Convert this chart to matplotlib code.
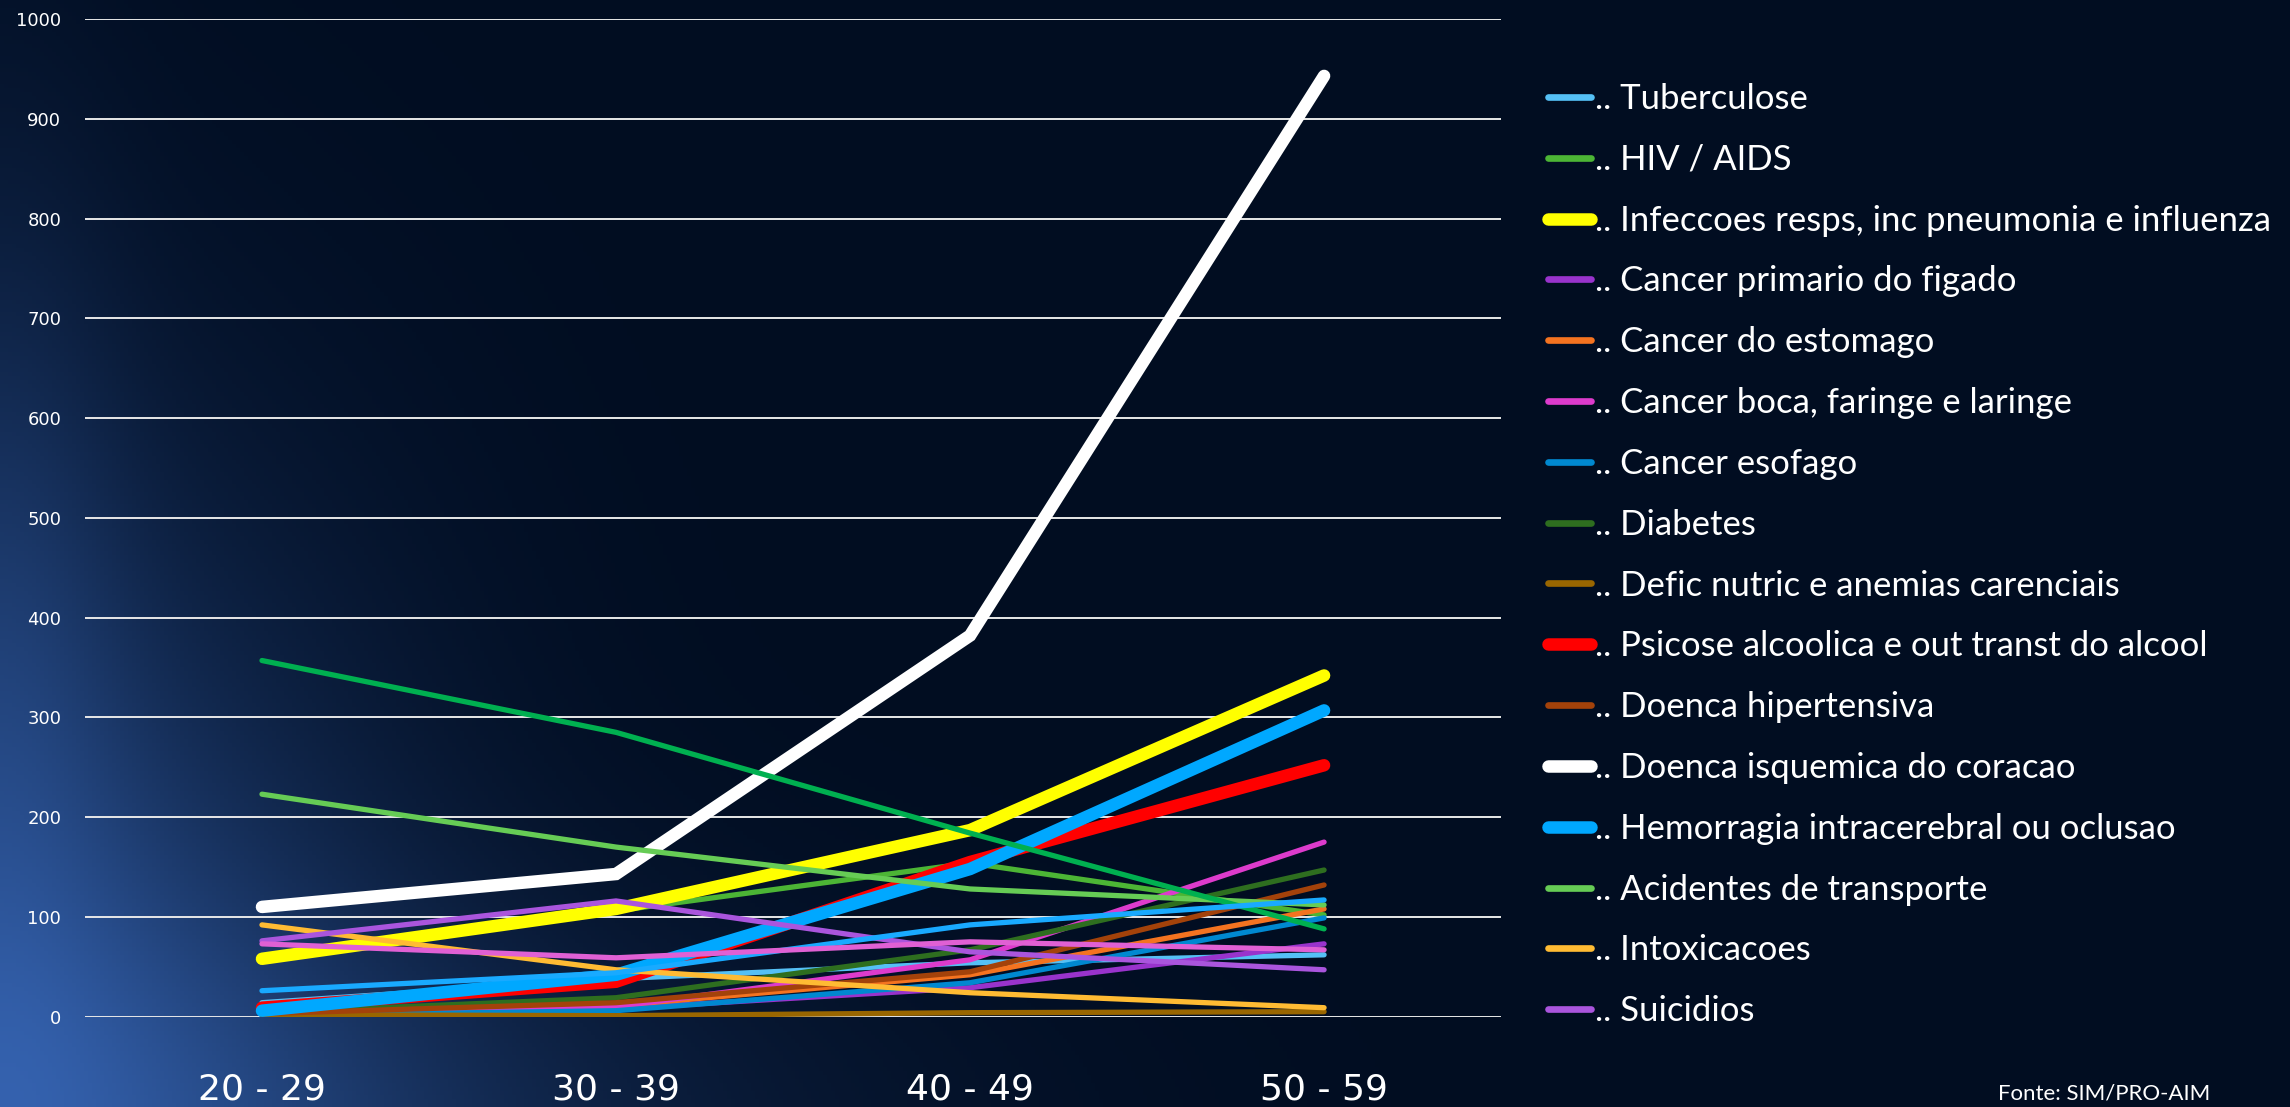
import numpy as np
import matplotlib
matplotlib.use('Agg')
import matplotlib.pyplot as plt

# faixas etarias (eixo x)
faixas = ['20 - 29', '30 - 39', '40 - 49', '50 - 59']

# valores, por causa
tuberculose = [14, 38, 54, 62]
hiv_aids = [57, 106, 154, 102]
infeccoes_resp = [58, 108, 187, 342]
cancer_figado = [3, 8, 29, 73]
cancer_estomago = [3, 11, 42, 108]
cancer_boca = [2, 10, 57, 175]
cancer_esofago = [1, 6, 34, 99]
diabetes = [4, 19, 67, 147]
defic_nutric = [2, 1, 4, 5]
psicose_alcool = [9, 35, 155, 252]
doenca_hipert = [3, 14, 45, 132]
doenca_isquemica = [110, 143, 382, 943]
hemorragia = [6, 42, 148, 307]
acidentes = [223, 170, 128, 112]
intoxicacoes = [92, 47, 24, 9]
suicidios = [76, 116, 65, 47]
# series sem entrada visivel na legenda
extra_verde = [357, 285, 184, 88]
extra_azul = [26, 44, 92, 117]
extra_rosa = [73, 59, 75, 67]

series = [
    ('.. Tuberculose', tuberculose, '#55c0f5', 3.8),
    ('.. HIV / AIDS', hiv_aids, '#4cb535', 3.8),
    ('.. Infeccoes resps, inc pneumonia e influenza', infeccoes_resp, '#ffff00', 9),
    ('.. Cancer primario do figado', cancer_figado, '#9933cc', 3.8),
    ('.. Cancer do estomago', cancer_estomago, '#f47320', 3.8),
    ('.. Cancer boca, faringe e laringe', cancer_boca, '#dd3bcc', 3.8),
    ('.. Cancer esofago', cancer_esofago, '#0088d0', 3.8),
    ('.. Diabetes', diabetes, '#2e6e1f', 3.8),
    ('.. Defic nutric e anemias carenciais', defic_nutric, '#996600', 3.8),
    ('.. Psicose alcoolica e out transt do alcool', psicose_alcool, '#ff0000', 9),
    ('.. Doenca hipertensiva', doenca_hipert, '#a3420a', 3.8),
    ('.. Doenca isquemica do coracao', doenca_isquemica, '#ffffff', 9),
    ('.. Hemorragia intracerebral ou oclusao', hemorragia, '#00a8ff', 9),
    ('.. Acidentes de transporte', acidentes, '#66cc55', 3.8),
    ('.. Intoxicacoes', intoxicacoes, '#ffbb33', 3.8),
    ('.. Suicidios', suicidios, '#aa55dd', 3.8),
    ('_extra1', extra_verde, '#00b050', 3.8),
    ('_extra2', extra_azul, '#19aaff', 3.8),
    ('_extra3', extra_rosa, '#e060d4', 3.8),
]

fig = plt.figure(figsize=(22.9, 11.07), dpi=100)

# fundo: azul escuro com brilho no canto inferior esquerdo
bg = fig.add_axes([0, 0, 1, 1], zorder=-10)
h, w = 277, 573
yy, xx = np.mgrid[0:h, 0:w]
base = np.array([1, 13, 33]) / 255.0
glow = np.array([60, 110, 195]) / 255.0
d1 = np.hypot((xx + 5) / 95.0, (yy - h) / 150.0)
d2 = np.hypot((xx - 60) / 150.0, (yy - h - 10) / 60.0)
d3 = np.hypot(xx / 30.0, (yy - h * 0.55) / 120.0)
k = 0.6 * np.exp(-d1 ** 2) + 0.25 * np.exp(-d2 ** 2) + 0.2 * np.exp(-d3 ** 2)
k = np.clip(k, 0, 1)[..., None]
img = base * (1 - k) + glow * k
bg.imshow(img, aspect='auto', extent=[0, 1, 0, 1], origin='upper')
bg.axis('off')

ax = fig.add_axes([0.0371, 0.0816, 0.6184, 0.9012])
ax.set_facecolor('none')
x = np.arange(len(faixas))
for nome, vals, cor, lw in series:
    ax.plot(x, vals, color=cor, lw=lw, label=nome,
            solid_capstyle='round', solid_joinstyle='miter')

ax.set_xlim(-0.5, 3.5)
ax.set_ylim(0, 1000)
ax.set_yticks(range(0, 1001, 100))
ax.yaxis.grid(True, color='#e8e8e8', lw=1.4)
ax.set_axisbelow(True)
for s in ax.spines.values():
    s.set_visible(False)
ax.set_xticks(x)
ax.set_xticklabels(faixas)
ax.tick_params(axis='x', length=0, pad=40, labelsize=26, colors='white')
ax.tick_params(axis='y', length=0, pad=17, labelsize=13, colors='white')

leg = fig.legend(loc='upper left', bbox_to_anchor=(0.676, 0.925),
                 frameon=False, labelcolor='white',
                 handlelength=1.25, handletextpad=0.1, labelspacing=0.83,
                 borderpad=0, borderaxespad=0, prop={'family': 'Lato', 'size': 25})
for t in leg.get_texts():
    t.set_color('white')
for hd in leg.legend_handles:
    if hd.get_linewidth() < 5:
        hd.set_linewidth(4.8)

fig.text(0.8725, 0.003, 'Fonte: SIM/PRO-AIM', color='white', fontsize=16,
         family='Lato', va='bottom', ha='left')

fig.savefig('out.png', dpi=100)
